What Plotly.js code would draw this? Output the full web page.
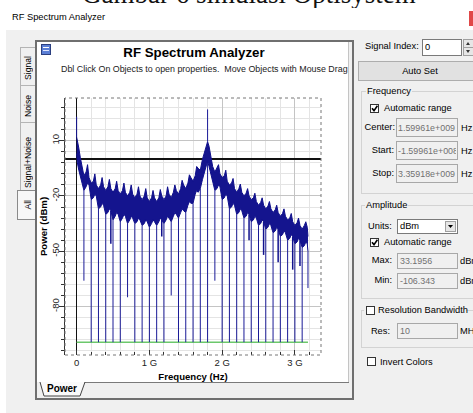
<!DOCTYPE html>
<html><head><meta charset="utf-8">
<script src="https://cdn.plot.ly/plotly-3.0.1.min.js"></script>
<style>
html,body{margin:0;padding:0;}
body{width:473px;height:413px;overflow:hidden;position:relative;background:#f0f0f0;font-family:"Liberation Sans",Arial,sans-serif;}
#bg{position:absolute;left:0;top:0;}
#chart{position:absolute;left:0;top:0;width:473px;height:413px;}
.t{position:absolute;font-size:9.3px;line-height:10px;height:10px;color:#000;white-space:nowrap;}
.g{color:#707070;font-size:8.9px;}
.r{text-align:right;}
.v{position:absolute;font-size:8.6px;color:#000;white-space:nowrap;writing-mode:vertical-rl;transform:rotate(180deg);line-height:10px;}
</style></head><body>
<svg id="bg" width="473" height="413" xmlns="http://www.w3.org/2000/svg">
  <rect x="0" y="0" width="473" height="30" fill="#ffffff"/>
  <rect x="469" y="11" width="4" height="15" fill="#e04848"/>
  <rect x="0" y="30" width="6" height="383" fill="#ffffff"/>
  <rect x="20.5" y="47.5" width="16" height="38" fill="#f0f0f0" stroke="#b4b4b4"/>
  <rect x="20.5" y="85.5" width="16" height="37" fill="#f0f0f0" stroke="#b4b4b4"/>
  <rect x="20.5" y="122.5" width="16" height="68" fill="#f0f0f0" stroke="#b4b4b4"/>
  <rect x="17.5" y="190.5" width="20" height="29" fill="#f7f7f7" stroke="#8a8a8a"/>
  <rect x="36" y="41" width="317" height="358" fill="#f0f0f0" stroke="#6f6f6f" stroke-width="2"/>
  <rect x="37" y="42" width="311" height="340" fill="#ffffff"/>
  <line x1="348.5" y1="42" x2="348.5" y2="383" stroke="#c4c4c4"/>
  <line x1="84" y1="382.5" x2="349" y2="382.5" stroke="#7a7a7a"/>
  <polyline points="40,382 44,396 80,396 85,382" fill="#fafafa" stroke="#444"/>
  <rect x="41.5" y="44.5" width="9" height="10" fill="#5b7fd6" stroke="#2b3f7f"/>
  <line x1="43" y1="47.5" x2="49" y2="47.5" stroke="#ffffff"/>
  <line x1="43" y1="50.5" x2="49" y2="50.5" stroke="#dfe6ff"/>
  <rect x="422.5" y="39.5" width="39" height="16" fill="#ffffff" stroke="#7a7a7a"/>
  <rect x="463.5" y="39.5" width="12" height="16" fill="#e6e6e6" stroke="#a0a0a0"/>
  <line x1="463" y1="47.5" x2="476" y2="47.5" stroke="#a0a0a0"/>
  <polygon points="468,42 466,45 470,45" fill="#333"/>
  <polygon points="468,53 466,50 470,50" fill="#333"/>
  <rect x="358.5" y="61.5" width="120" height="19" fill="#e1e1e1" stroke="#adadad"/>
  <rect x="361.5" y="91.5" width="120" height="102" fill="none" stroke="#d3d3d3"/>
  <rect x="366" y="86" width="46" height="10" fill="#f0f0f0"/>
  <rect x="370.5" y="104.5" width="8" height="8" fill="#ffffff" stroke="#333"/>
  <path d="M372,108.2 L374,110.6 L377.4,105.8" fill="none" stroke="#000" stroke-width="1.6"/>
  <rect x="396.5" y="118.5" width="61" height="18" fill="#f0f0f0" stroke="#a8a8a8"/>
  <rect x="396.5" y="141.5" width="61" height="18" fill="#f0f0f0" stroke="#a8a8a8"/>
  <rect x="396.5" y="164.5" width="61" height="18" fill="#f0f0f0" stroke="#a8a8a8"/>
  <rect x="361.5" y="205.5" width="120" height="93" fill="none" stroke="#d3d3d3"/>
  <rect x="365" y="200" width="43" height="10" fill="#f0f0f0"/>
  <rect x="397.5" y="219.5" width="60" height="14" fill="#ffffff" stroke="#7a7a7a"/>
  <rect x="445.5" y="221.5" width="10" height="10" fill="#e6e6e6" stroke="#a0a0a0"/>
  <polygon points="448,225 453,225 450.5,228" fill="#000"/>
  <rect x="370.5" y="238.5" width="8" height="8" fill="#ffffff" stroke="#333"/>
  <path d="M372,242.2 L374,244.6 L377.4,239.8" fill="none" stroke="#000" stroke-width="1.6"/>
  <rect x="397.5" y="253.5" width="60" height="15" fill="#f0f0f0" stroke="#a8a8a8"/>
  <rect x="397.5" y="273.5" width="60" height="15" fill="#f0f0f0" stroke="#a8a8a8"/>
  <rect x="361.5" y="310.5" width="120" height="37" fill="none" stroke="#d3d3d3"/>
  <rect x="364" y="304" width="102" height="12" fill="#f0f0f0"/>
  <rect x="366.5" y="306.5" width="8" height="8" fill="#ffffff" stroke="#333"/>
  <rect x="397.5" y="323.5" width="60" height="15" fill="#f0f0f0" stroke="#a8a8a8"/>
  <rect x="367.5" y="357.5" width="8" height="8" fill="#ffffff" stroke="#333"/>
</svg>
<div style="position:absolute;left:0;top:0;width:473px;height:8px;overflow:hidden;">
  <span style="position:absolute;left:82px;top:-18.6px;font-family:'Liberation Serif','Times New Roman',serif;font-size:27px;line-height:27px;color:#111;white-space:nowrap;">Gambar 6 simulasi Optisystem</span>
</div>
<div class="t" style="left:12px;top:12px;">RF Spectrum Analyzer</div>
<div class="v" style="left:23px;top:56px;">Signal</div>
<div class="v" style="left:23px;top:95px;">Noise</div>
<div class="v" style="left:23px;top:137px;">Signal+Noise</div>
<div class="v" style="left:23px;top:200px;">All</div>
<div class="t" style="left:47px;top:384px;font-weight:bold;font-size:10px;">Power</div>
<div id="chart"></div>
<div class="t" style="left:365px;top:41px;">Signal Index:</div>
<div class="t" style="left:425px;top:42px;">0</div>
<div class="t" style="left:358px;top:66px;width:124px;text-align:center;">Auto Set</div>
<div class="t" style="left:367px;top:86px;">Frequency</div>
<div class="t" style="left:384px;top:103px;">Automatic range</div>
<div class="t r" style="left:350px;top:122px;width:45px;">Center:</div>
<div class="t g" style="left:398px;top:123px;width:58px;overflow:hidden;">1.59961e+009</div>
<div class="t" style="left:461px;top:123px;">Hz</div>
<div class="t r" style="left:350px;top:145px;width:44px;">Start:</div>
<div class="t g" style="left:398px;top:146px;width:58px;overflow:hidden;">-1.59961e+008</div>
<div class="t" style="left:461px;top:146px;">Hz</div>
<div class="t r" style="left:350px;top:168px;width:44px;">Stop:</div>
<div class="t g" style="left:398px;top:169px;width:58px;overflow:hidden;">3.35918e+009</div>
<div class="t" style="left:461px;top:169px;">Hz</div>
<div class="t" style="left:366px;top:200px;">Amplitude</div>
<div class="t" style="left:368px;top:221px;">Units:</div>
<div class="t" style="left:400px;top:221px;">dBm</div>
<div class="t" style="left:384px;top:237px;">Automatic range</div>
<div class="t r" style="left:350px;top:255px;width:42px;">Max:</div>
<div class="t g" style="left:400px;top:256px;">33.1956</div>
<div class="t" style="left:460px;top:256px;">dBm</div>
<div class="t r" style="left:350px;top:275px;width:42px;">Min:</div>
<div class="t g" style="left:400px;top:276px;">-106.343</div>
<div class="t" style="left:460px;top:276px;">dBm</div>
<div class="t" style="left:378px;top:305px;">Resolution Bandwidth</div>
<div class="t r" style="left:350px;top:326px;width:40px;">Res:</div>
<div class="t g" style="left:400px;top:326px;">10</div>
<div class="t" style="left:460px;top:326px;">MHz</div>
<div class="t" style="left:380px;top:357px;">Invert Colors</div>
<script>
// ---- data (frequency in GHz, power in dBm) ----
const envX = [0, 0.01, 0.03, 0.05, 0.07, 0.1,
  0.13, 0.15, 0.17, 0.2, 0.23, 0.25, 0.27, 0.3, 0.33, 0.35, 0.37, 0.4, 0.43, 0.45, 0.47, 0.5,
  0.53, 0.55, 0.57, 0.6, 0.63, 0.65, 0.67, 0.7, 0.73, 0.75, 0.77, 0.8, 0.83, 0.85, 0.87, 0.9,
  0.93, 0.95, 0.97, 1.0, 1.03, 1.05, 1.07, 1.1, 1.13, 1.15, 1.17, 1.2, 1.23, 1.25, 1.27, 1.3,
  1.33, 1.35, 1.37, 1.4, 1.43, 1.45, 1.47, 1.5, 1.53, 1.55, 1.57, 1.6, 1.63, 1.65, 1.67, 1.7,
  1.73, 1.75, 1.78, 1.8, 1.82, 1.85, 1.87, 1.9,
  1.93, 1.95, 1.97, 2.0, 2.03, 2.05, 2.07, 2.1, 2.13, 2.15, 2.17, 2.2, 2.23, 2.25, 2.27, 2.3,
  2.33, 2.35, 2.37, 2.4, 2.43, 2.45, 2.47, 2.5, 2.53, 2.55, 2.57, 2.6, 2.63, 2.65, 2.67, 2.7,
  2.73, 2.75, 2.77, 2.8, 2.83, 2.85, 2.87, 2.9, 2.93, 2.95, 2.97, 3.0, 3.03, 3.05, 3.07, 3.1,
  3.13, 3.15, 3.17, 3.18];
const envUpper = [12, 9, 6, 1, -3, -9,
  -7, -3, -10, -13, -12, -8, -14, -16, -14, -10, -15, -17, -15, -11, -16, -18,
  -16, -12, -17, -19, -17, -13, -18, -20, -18, -14, -19, -21, -19, -15, -20, -22,
  -20, -16, -21, -23, -21, -17, -21, -23, -21, -16.5, -20, -22, -20, -15, -19, -21,
  -18, -14, -17, -19, -16, -11.5, -14, -16, -13, -8.5, -10, -12, -9, -4, -5, -6,
  0, 3, 7, 9.5, 7, 1, -4, -7,
  -5, -3, -8, -10, -9, -6, -12, -14, -13, -10.5, -16, -18, -16, -13.5, -18, -20,
  -18.5, -16, -20, -22, -21, -18.5, -23, -25, -23.5, -21, -25, -27, -25.5, -23, -27, -29,
  -27.5, -25, -29, -31, -29.5, -27, -31, -33, -32, -29.5, -34, -36, -34.5, -32, -36, -38,
  -36, -34, -37, -42];
const envLower = [3, -2, -6, -9, -12, -17,
  -15, -13, -14, -22, -21, -19, -20, -27, -26, -24, -25, -30, -29, -27, -28, -33,
  -31, -29, -30, -34, -32, -30, -31, -35, -33, -31, -32, -35, -34, -32, -33, -36,
  -35, -33, -34, -37, -35, -33, -34, -36, -34, -32, -33, -35, -33, -31, -32, -34,
  -31, -29, -30, -32, -29, -27, -28, -29, -25, -23, -24, -24, -19, -17, -18, -16,
  -11, -8, -3, -1, -4, -9, -12, -17,
  -16, -14, -15, -22, -21, -19, -20, -27, -26, -24, -25, -30, -29, -27, -28, -32,
  -31, -29, -30, -34, -33, -31, -32, -36, -35, -33, -34, -38, -37, -35, -36, -40,
  -39, -37, -38, -42, -41, -39, -40, -44, -43, -41, -42, -46, -45, -43, -44, -48,
  -47, -45, -46, -50];
const nullFreq = [0.1, 0.2, 0.3, 0.4, 0.5, 0.6, 0.7, 0.8, 0.9, 1.0, 1.1, 1.2, 1.3, 1.4, 1.5, 1.6,
  1.7, 1.8, 1.9, 2.0, 2.1, 2.2, 2.3, 2.4, 2.5, 2.6, 2.7, 2.8, 2.9, 3.0, 3.1, 3.18];
const nullDepth = [-66, -99.4, -99.4, -99.4, -99.4, -99.4, -75, -99.4, -99.4, -99.4, -99.4, -99.4, -74,
  -99.4, -99.4, -99.4, -99.4, -99.4, -66, -99.4, -99.4, -99.4, -99.4, -99.4, -99.4, -99.4, -99.4,
  -99.4, -99.4, -99.4, -99.4, -70];
const dipFreq = [0.47, 1.17, 2.37, 2.57, 2.77, 2.97, 3.07];
const dipBottom = [-46, -42, -44, -52, -56, -60, -58];
const spikeFreq = [0, 1.8];
const spikeTop = [23, 27];
const noiseFreq = [0, 3.18];
const noisePower = [-99.4, -99.4];
const xTickVals = [0, 1, 2, 3];
const xTickText = ['0', '1 G', '2 G', '3 G'];
const yTickVals = [10, -20, -50, -80];
const yTickText = ['10', '-20', '-50', '-80'];
const yMin = -106.343, yMax = 33.1956;
const xMin = -0.16, xMax = 3.359;

function valAt(arr, f){
  let best = 0;
  for (let i = 0; i < envX.length; i++) if (Math.abs(envX[i] - f) < Math.abs(envX[best] - f)) best = i;
  return arr[best];
}
const nx = [], ny = [];
nullFreq.forEach((f, i) => { nx.push(f, f, null); ny.push(valAt(envLower, f), nullDepth[i], null); });
const dx = [], dy = [];
dipFreq.forEach((f, i) => { dx.push(f, f, null); dy.push(valAt(envLower, f), dipBottom[i], null); });
const sx = [], sy = [];
spikeFreq.forEach((f, i) => { sx.push(f, f, null); sy.push(valAt(envUpper, f), spikeTop[i], null); });

const navy = '#10108c';
const traces = [
  {x: noiseFreq, y: noisePower, mode: 'lines', line: {color: '#6cc86c', width: 1.5}, hoverinfo: 'skip'},
  {x: nx, y: ny, mode: 'lines', line: {color: '#1a1a96', width: 1}, hoverinfo: 'skip'},
  {x: dx, y: dy, mode: 'lines', line: {color: '#12128e', width: 1.5}, hoverinfo: 'skip'},
  {x: envX, y: envLower, mode: 'lines', line: {color: navy, width: 1}, hoverinfo: 'skip'},
  {x: envX, y: envUpper, mode: 'lines', fill: 'tonexty', fillcolor: '#14148e', line: {color: navy, width: 1}, hoverinfo: 'skip'},
  {x: sx, y: sy, mode: 'lines', line: {color: '#1a1a9a', width: 1}, hoverinfo: 'skip'}
];
const fontFam = 'Liberation Sans, Arial, sans-serif';
const layout = {
  width: 473, height: 413,
  margin: {l: 65, r: 152, t: 98, b: 58, pad: 0},
  paper_bgcolor: 'rgba(0,0,0,0)', plot_bgcolor: '#ffffff',
  showlegend: false,
  font: {family: fontFam, size: 9.5, color: '#222'},
  title: {text: '<b>RF Spectrum Analyzer</b>', font: {family: fontFam, size: 13.3, color: '#000'},
    xref: 'container', yref: 'container', x: 194 / 473, xanchor: 'center', y: 1 - 52 / 413, yanchor: 'middle'},
  xaxis: {range: [xMin, xMax], tickmode: 'array', tickvals: xTickVals, ticktext: xTickText,
    ticks: 'inside', ticklen: 5, tickcolor: '#333', showgrid: true, gridcolor: '#c4c4c4',
    zeroline: true, zerolinecolor: '#111', zerolinewidth: 1.3, showline: false,
    minor: {tickmode: 'linear', tick0: 0, dtick: 0.2, ticks: 'inside', ticklen: 3, tickcolor: '#333', showgrid: true, gridcolor: '#e4e4e4'},
    tickfont: {family: fontFam, size: 9.5, color: '#222'},
    title: {text: '<b>Frequency (Hz)</b>', font: {family: fontFam, size: 9.6, color: '#000'}, standoff: 6},
    fixedrange: true},
  yaxis: {range: [yMin, yMax], tickmode: 'array', tickvals: yTickVals, ticktext: yTickText, tickangle: -90,
    ticks: 'outside', ticklen: 5, tickcolor: '#333', showgrid: true, gridcolor: '#c4c4c4',
    ticklabelstandoff: -4,
    showline: true, linecolor: '#333', linewidth: 1.5,
    zeroline: true, zerolinecolor: '#111', zerolinewidth: 1.5,
    minor: {tickmode: 'linear', tick0: 10, dtick: 6, ticks: 'outside', ticklen: 3, tickcolor: '#333', showgrid: true, gridcolor: '#e4e4e4'},
    tickfont: {family: fontFam, size: 9.5, color: '#222'},
    title: {text: '<b>Power (dBm)</b>', font: {family: fontFam, size: 9.6, color: '#000'}, standoff: 0},
    fixedrange: true},
  xaxis2: {overlaying: 'x', matches: 'x', anchor: 'free', position: (0 - yMin) / (yMax - yMin), side: 'bottom',
    ticks: 'outside', ticklen: 3, tickcolor: '#111', tickmode: 'linear', tick0: 0, dtick: 0.2,
    showticklabels: false, showgrid: false, zeroline: false, showline: false},
  shapes: [{type: 'rect', xref: 'paper', yref: 'paper', x0: 0, x1: 1, y0: 0, y1: 1,
    line: {color: '#777', width: 1, dash: 'dot'}, layer: 'above'}],
  annotations: [{text: 'Dbl Click On Objects to open properties.\u00a0 Move Objects with Mouse Drag',
    xref: 'paper', yref: 'paper', x: (204 - 65) / 256, y: (355 - 69) / 257, xanchor: 'center', yanchor: 'middle',
    showarrow: false, font: {family: fontFam, size: 8.9, color: '#222'}}]
};
Plotly.newPlot('chart', traces, layout, {displayModeBar: false, staticPlot: true});
</script>
</body></html>
